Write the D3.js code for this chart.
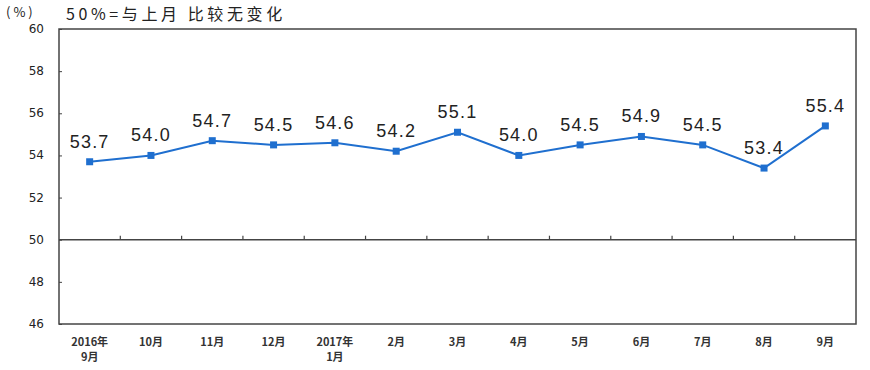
<!DOCTYPE html>
<html>
<head>
<meta charset="utf-8">
<script src="https://cdn.jsdelivr.net/npm/d3@7"></script>
<style>
body { margin: 0; background: #fff; }
</style>
</head>
<body>
<div id="chart"></div>
<script>
var months = ['2016年|9月', '10月', '11月', '12月', '2017年|1月', '2月', '3月', '4月', '5月', '6月', '7月', '8月', '9月'];
var values = [53.7, 54.0, 54.7, 54.5, 54.6, 54.2, 55.1, 54.0, 54.5, 54.9, 54.5, 53.4, 55.4];
var yTicks = [46, 48, 50, 52, 54, 56, 58, 60];

var width = 870;
var height = 370;
var plotLeft = 59, plotRight = 856, plotTop = 29, plotBottom = 324;

var svg = d3.select('#chart')
    .append('svg')
    .attr('width', width)
    .attr('height', height);

var x = d3.scaleBand()
    .domain(months)
    .range([plotLeft, plotRight]);

var y = d3.scaleLinear()
    .domain([46, 60])
    .range([plotBottom, plotTop]);

// frame
svg.append('rect')
    .attr('x', plotLeft)
    .attr('y', plotTop)
    .attr('width', plotRight - plotLeft)
    .attr('height', plotBottom - plotTop)
    .attr('fill', 'none')
    .attr('stroke', '#444')
    .attr('stroke-width', 1.5);

// y axis, inward ticks
var yAxis = svg.append('g')
    .attr('transform', 'translate(' + plotLeft + ',0)')
    .call(d3.axisRight(y).tickValues(yTicks).tickSize(3).tickFormat(''));
yAxis.select('.domain').remove();
yAxis.selectAll('line').attr('stroke', '#444');

svg.append('g')
    .selectAll('text')
    .data(yTicks)
    .enter()
    .append('text')
    .attr('x', 44)
    .attr('y', (d) => y(d) + 4)
    .attr('text-anchor', 'end')
    .attr('font-family', 'Verdana, "DejaVu Sans", sans-serif')
    .attr('font-size', 12)
    .attr('fill', '#222')
    .text((d) => d);

// 50 line with upward ticks at band boundaries
var boundaries = months.slice(1).map((m) => x(m));
svg.append('line')
    .attr('x1', plotLeft)
    .attr('x2', plotRight)
    .attr('y1', y(50))
    .attr('y2', y(50))
    .attr('stroke', '#444')
    .attr('stroke-width', 1.5);
svg.append('g')
    .selectAll('line')
    .data(boundaries)
    .enter()
    .append('line')
    .attr('x1', (d) => d)
    .attr('x2', (d) => d)
    .attr('y1', y(50))
    .attr('y2', y(50) - 4)
    .attr('stroke', '#444')
    .attr('stroke-width', 1.2);

// x labels
var xLabels = svg.append('g')
    .selectAll('text')
    .data(months)
    .enter()
    .append('text')
    .attr('text-anchor', 'middle')
    .attr('font-family', '"Noto Sans CJK SC", sans-serif')
    .attr('font-size', 11)
    .attr('font-weight', 'bold')
    .attr('fill', '#333');
xLabels.each(function (d) {
    var parts = d.split('|');
    var t = d3.select(this);
    parts.forEach(function (p, i) {
        t.append('tspan')
            .attr('x', x(d) + x.bandwidth() / 2)
            .attr('y', 346 + i * 15)
            .text(p);
    });
});

// line
var cx = (d, i) => x(months[i]) + x.bandwidth() / 2;
var line = d3.line()
    .x(cx)
    .y((d) => y(d));

svg.append('path')
    .datum(values)
    .attr('d', line)
    .attr('fill', 'none')
    .attr('stroke', '#1f6fcf')
    .attr('stroke-width', 2);

svg.append('g')
    .selectAll('rect')
    .data(values)
    .enter()
    .append('rect')
    .attr('x', (d, i) => cx(d, i) - 3.5)
    .attr('y', (d) => y(d) - 3.5)
    .attr('width', 7)
    .attr('height', 7)
    .attr('fill', '#1f6fcf');

svg.append('g')
    .selectAll('text')
    .data(values)
    .enter()
    .append('text')
    .attr('x', cx)
    .attr('y', (d) => y(d) - 14)
    .attr('text-anchor', 'middle')
    .attr('font-family', '"Liberation Sans", Arial, sans-serif')
    .attr('font-size', 18)
    .attr('letter-spacing', 1.2)
    .attr('fill', '#222')
    .text((d) => d.toFixed(1));

// titles
svg.append('text')
    .attr('x', 6)
    .attr('y', 17)
    .attr('font-family', '"Noto Sans CJK SC", sans-serif')
    .attr('font-size', 13)
    .attr('letter-spacing', 3)
    .attr('fill', '#222')
    .text('(%)');

svg.append('text')
    .attr('x', 66)
    .attr('y', 20)
    .attr('font-family', '"Noto Sans CJK SC", sans-serif')
    .attr('font-size', 16)
    .attr('letter-spacing', 3.6)
    .attr('fill', '#222')
    .text('50%=与上月 比较无变化');
</script>
</body>
</html>
